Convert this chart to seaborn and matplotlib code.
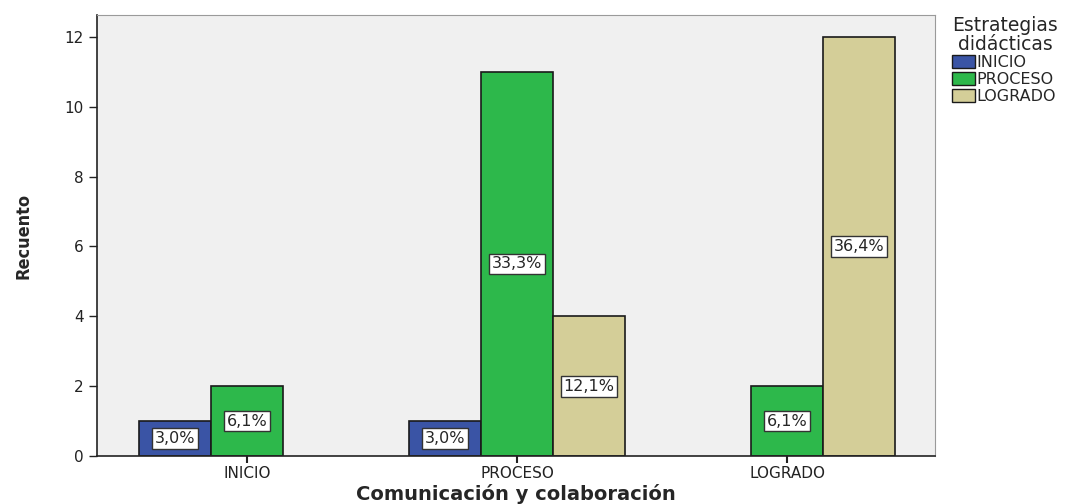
import numpy as np
import pandas as pd
import matplotlib
matplotlib.use("Agg")
import matplotlib.pyplot as plt
import seaborn as sns

categories = ['INICIO', 'PROCESO', 'LOGRADO']
series = ['INICIO', 'PROCESO', 'LOGRADO']
counts_inicio = [1, 1, 0]
counts_proceso = [2, 11, 2]
counts_logrado = [0, 4, 12]
pct_inicio = ['3,0%', '3,0%', '']
pct_proceso = ['6,1%', '33,3%', '6,1%']
pct_logrado = ['', '12,1%', '36,4%']
colors = ['#3A54A5', '#2DB84B', '#D4CE98']

rows = []
for s, vals in zip(series, [counts_inicio, counts_proceso, counts_logrado]):
    for c, v in zip(categories, vals):
        rows.append({'cat': c, 'serie': s, 'n': v})
df = pd.DataFrame(rows)

sns.set_style('white')
plt.rcParams['font.family'] = ['DejaVu Sans']

fig = plt.figure(figsize=(10.87, 5.04), dpi=100)
ax = fig.add_axes([97 / 1087, 48 / 504, 838 / 1087, 441 / 504])
ax.set_facecolor('#F0F0F0')

sns.barplot(data=df, x='cat', y='n', hue='serie', order=categories,
            hue_order=series, palette=colors, width=0.8, saturation=1,
            edgecolor='#1a1a1a', linewidth=1.2, ax=ax, legend=False)

# no outline for empty bars
for p in ax.patches:
    if p.get_height() == 0:
        p.set_linewidth(0)

# percentage labels in the middle of each bar
for cont, labs in zip(ax.containers, [pct_inicio, pct_proceso, pct_logrado]):
    ax.bar_label(cont, labels=labs, label_type='center', fontsize=11.5,
                 bbox=dict(boxstyle='square,pad=0.18', fc='white', ec='#333333', lw=1))

ax.set_xlim(-0.556, 2.548)
ax.set_ylim(0, 12.63)
ax.set_yticks([0, 2, 4, 6, 8, 10, 12])
ax.tick_params(axis='both', direction='out', length=6, width=1, colors='#222222',
               labelsize=11, bottom=True, left=True)
ax.tick_params(axis='x', length=5, width=1.5, pad=2, labelsize=11)

for side in ['left', 'bottom']:
    ax.spines[side].set_color('#222222')
    ax.spines[side].set_linewidth(1.2)
for side in ['top', 'right']:
    ax.spines[side].set_color('#9a9a9a')
    ax.spines[side].set_linewidth(0.8)

ax.set_xlabel('Comunicación y colaboración', fontsize=14, fontweight='bold',
              labelpad=2)
ax.set_ylabel('Recuento', fontsize=13, fontweight='heavy', labelpad=23,
              family=['DejaVu Sans Condensed', 'DejaVu Sans'],
              fontstretch='condensed')

handles = [plt.Rectangle((0, 0), 1, 1, fc=c, ec='#1a1a1a', lw=1) for c in colors]
leg = fig.legend(handles, series, title='Estrategias\ndidácticas',
                 loc='upper left', bbox_to_anchor=(946 / 1087, 494 / 504),
                 frameon=False, fontsize=11.5, title_fontsize=13.5,
                 handlelength=1.4, handleheight=0.9, handletextpad=0.1,
                 labelspacing=0.1, borderaxespad=0, alignment='left')
leg.get_title().set_multialignment('center')
leg.get_title().set_linespacing(0.95)

fig.savefig('out.png', dpi=100)
